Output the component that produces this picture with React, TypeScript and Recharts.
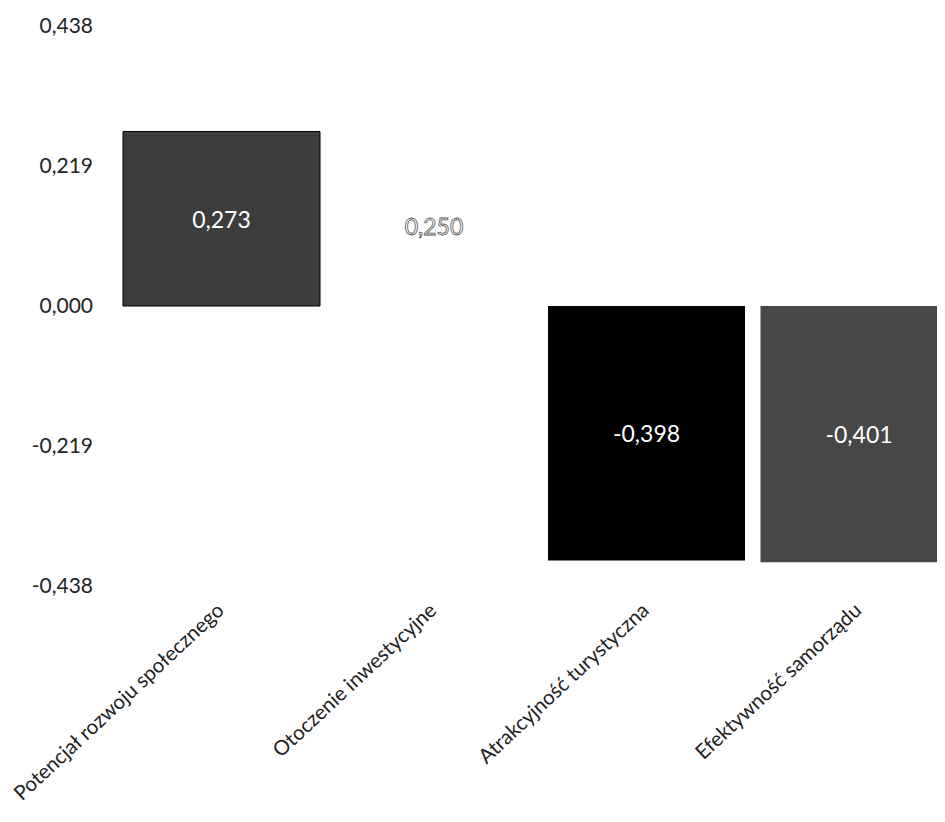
import React from "react";
import { BarChart, Bar, XAxis, YAxis, Cell, LabelList } from "recharts";

const categories = [
  "Potencjał rozwoju społecznego",
  "Otoczenie inwestycyjne",
  "Atrakcyjność turystyczna",
  "Efektywność samorządu",
];
const values = [0.273, 0.25, -0.398, -0.401];
const barColors = ["#3d3d3d", "#ffffff", "#000000", "#474747"];
const yTicks = [-0.438, -0.219, 0, 0.219, 0.438];

const data = categories.map((name, i) => ({ name, value: values[i] }));

const fmt = (v: number) => v.toFixed(3).replace(".", ",");
const FONT = "Lato, 'Open Sans', sans-serif";

const CatTick = (props: any) => {
  const { x, y, payload } = props;
  return (
    <g transform={`translate(${x + 4},${y + 26})`}>
      <text
        transform="rotate(-43)"
        textAnchor="end"
        fontFamily={FONT}
        fontSize={20.5}
        fill="#222"
      >
        {payload.value}
      </text>
    </g>
  );
};

const ValueLabel = (props: any) => {
  const { x, y, width, height, index, value } = props;
  const cx = x + width / 2;
  const cy = y + height / 2;
  const isWhiteBar = barColors[index] === "#ffffff";
  return (
    <text
      x={cx}
      y={cy}
      textAnchor="middle"
      dominantBaseline="central"
      fontFamily={FONT}
      fontSize={23}
      fill="#ffffff"
      stroke={isWhiteBar ? "#555" : "none"}
      strokeWidth={isWhiteBar ? 0.8 : 0}
    >
      {fmt(value)}
    </text>
  );
};

export default function App() {
  return (
    <div style={{ width: 937, height: 814, overflow: "hidden", background: "#fff" }}>
      <BarChart
        width={957}
        height={814}
        data={data}
        margin={{ top: 18, right: 0, bottom: 16, left: 0 }}
        barCategoryGap={8}
      >
        <YAxis
          type="number"
          domain={[-0.438, 0.438]}
          ticks={yTicks}
          tickFormatter={fmt}
          width={107}
          axisLine={false}
          tickLine={false}
          tickSize={0}
          tickMargin={22}
          tick={{ fontFamily: FONT, fontSize: 21, fill: "#222" }}
          interval={0}
        />
        <XAxis
          dataKey="name"
          height={220}
          axisLine={false}
          tickLine={false}
          tickSize={0}
          tickMargin={0}
          interval={0}
          tick={<CatTick />}
        />
        <Bar dataKey="value" isAnimationActive={false}>
          {data.map((d, i) => (
            <Cell
              key={d.name}
              fill={barColors[i]}
              stroke={i === 0 ? "#000" : "none"}
              strokeWidth={1}
            />
          ))}
          <LabelList dataKey="value" content={<ValueLabel />} />
        </Bar>
      </BarChart>
    </div>
  );
}
